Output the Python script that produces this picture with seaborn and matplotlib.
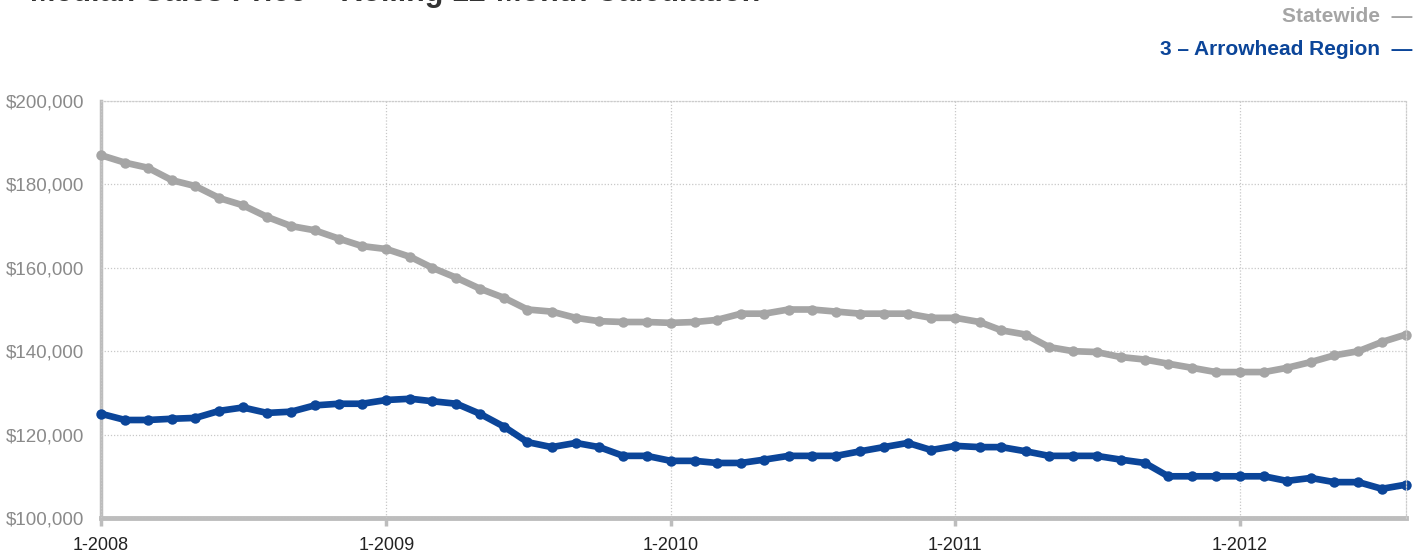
import pandas as pd
import matplotlib.pyplot as plt
import seaborn as sns

# monthly median sales price, 1-2008 .. 8-2012
months = pd.date_range("2008-01-01", periods=56, freq="MS")

statewide = [187000, 185200, 184000, 181000, 179600, 176700, 175000, 172200,
             170000, 169000, 167000, 165200, 164500, 162600, 160000, 157600,
             155000, 152800, 150000, 149500, 148000, 147200, 147000, 147000,
             146800, 147000, 147500, 149000, 149000, 150000, 150000, 149500,
             149000, 149000, 149000, 148000, 148000, 147000, 145000, 144000,
             141000, 140000, 139800, 138600, 138000, 137000, 136000, 135000,
             135000, 135000, 136000, 137400, 139000, 140000, 142200, 144000]

arrowhead = [125000, 123500, 123500, 123800, 124000, 125700, 126500, 125200,
             125500, 127000, 127400, 127400, 128300, 128600, 128000, 127400,
             125000, 121900, 118200, 117000, 118000, 117000, 114900, 114900,
             113700, 113700, 113200, 113200, 114000, 114900, 114900, 114900,
             116000, 117000, 118000, 116300, 117300, 117000, 117000, 116000,
             114900, 114900, 114900, 114000, 113200, 110000, 110000, 110000,
             110000, 110000, 108900, 109600, 108600, 108600, 107000, 108000]

series_names = ["Statewide", "3 \u2013 Arrowhead Region"]
colors = {"Statewide": "#a5a5a5", "3 \u2013 Arrowhead Region": "#0b4599"}
tick_years = ["1-2008", "1-2009", "1-2010", "1-2011", "1-2012"]

df = pd.concat([
    pd.DataFrame({"month": months, "price": statewide, "series": series_names[0]}),
    pd.DataFrame({"month": months, "price": arrowhead, "series": series_names[1]}),
])

sns.set_style("white")
plt.rcParams["font.family"] = ["Liberation Sans", "DejaVu Sans"]

fig = plt.figure(figsize=(14.23, 5.52), dpi=100)
ax = fig.add_axes([101 / 1423, 1 - 518 / 552, (1406 - 101) / 1423, (518 - 101) / 552])

sns.lineplot(data=df, x="month", y="price", hue="series", palette=colors,
             linewidth=4.8, marker="o", markersize=7.5, markeredgewidth=0,
             legend=False, ax=ax, clip_on=False)

ax.set_xlim(months[0], months[-1])
ax.set_ylim(100000, 200000)
ax.set_yticks(range(100000, 200001, 20000))
ax.set_yticklabels(["${:,}".format(v) for v in range(100000, 200001, 20000)])
year_ticks = [pd.Timestamp(f"{y}-01-01") for y in range(2008, 2013)]
ax.set_xticks(year_ticks)
ax.set_xticklabels(tick_years)
ax.set_xlabel("")
ax.set_ylabel("")

ax.grid(True, color="#c8c8c8", linestyle=(0, (1, 1.5)), linewidth=0.9)
ax.set_axisbelow(True)

for s in ["top", "right"]:
    ax.spines[s].set_visible(True)
    ax.spines[s].set_color("#cccccc")
    ax.spines[s].set_linestyle((0, (1, 1.5)))
    ax.spines[s].set_linewidth(0.9)
ax.spines["left"].set_color("#bdbdbd")
ax.spines["left"].set_linewidth(2.5)
ax.spines["bottom"].set_color("#bdbdbd")
ax.spines["bottom"].set_linewidth(3.5)
ax.spines["left"].set_zorder(0.5)
ax.spines["bottom"].set_zorder(0.5)

ax.tick_params(axis="y", length=0, labelsize=13.5, labelcolor="#8a8a8a", pad=12)
ax.tick_params(axis="x", length=6, width=2.5, color="#bdbdbd", direction="out",
               labelsize=13, labelcolor="#222222", pad=8, bottom=True)

# title, cut off at the top edge in the original
fig.text(30 / 1423, 1 - 0.8 / 552, "Median Sales Price \u2013 Rolling 12-Month Calculation",
         fontsize=22, fontweight="bold", color="#333333", va="baseline", ha="left")

# legend at top right
fig.text(1412 / 1423, 1 - 17 / 552, "Statewide  \u2014", ha="right", va="center",
         fontsize=15, fontweight="bold", color=colors["Statewide"])
fig.text(1412 / 1423, 1 - 49 / 552, "3 \u2013 Arrowhead Region  \u2014", ha="right", va="center",
         fontsize=15, fontweight="bold", color=colors["3 \u2013 Arrowhead Region"])

fig.savefig("out.png", dpi=100)
